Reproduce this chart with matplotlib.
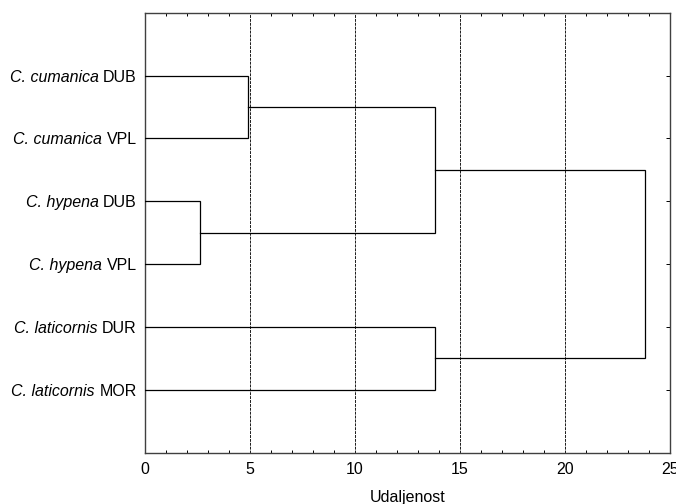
import numpy as np
import matplotlib.pyplot as plt
from matplotlib.ticker import MultipleLocator

plt.rcParams['font.family'] = ['Liberation Sans', 'DejaVu Sans']

# leaf labels (species in italics, locality code upright)
species = ['C. cumanica', 'C. cumanica', 'C. hypena', 'C. hypena',
           'C. laticornis', 'C. laticornis']
sites = ['DUB', 'VPL', 'DUB', 'VPL', 'DUR', 'MOR']

# merges: (node a, node b, linkage distance); new nodes get ids 6, 7, ...
merge_a = [0, 2, 6, 4, 8]
merge_b = [1, 3, 7, 5, 9]
merge_h = [4.9, 2.6, 13.8, 13.8, 23.8]

fs = 11.5
fig = plt.figure(figsize=(6.76, 5.04), dpi=100)
ax = fig.add_axes([145 / 676, 1 - 452.7 / 504, 525 / 676, 440 / 504])

# node positions: leaves sit at 1..6, clusters at the mean of their children
ypos = {i: i + 1.0 for i in range(len(sites))}
xpos = {i: 0.0 for i in range(len(sites))}
for k, (a, b, h) in enumerate(zip(merge_a, merge_b, merge_h)):
    node = len(sites) + k
    ax.plot([xpos[a], h, h, xpos[b]], [ypos[a], ypos[a], ypos[b], ypos[b]],
            color='black', lw=0.9, solid_joinstyle='miter', zorder=3)
    ypos[node] = (ypos[a] + ypos[b]) / 2
    xpos[node] = h

ax.set_xlim(0, 25)
ax.set_ylim(7, 0)
ax.xaxis.set_major_locator(MultipleLocator(5))
ax.xaxis.set_minor_locator(MultipleLocator(1))
ax.set_yticks(np.arange(1, len(sites) + 1))
ax.set_yticklabels([])

for v in range(5, 25, 5):
    ax.axvline(v, color='0.1', lw=0.7, ls=(0, (3, 1)), zorder=1)

ax.tick_params(axis='x', which='both', direction='in', top=True, bottom=True,
               labelsize=fs, pad=7)
ax.tick_params(axis='x', which='major', length=0)
ax.tick_params(axis='x', which='minor', length=2.5, width=0.7)
ax.tick_params(axis='y', direction='in', left=True, right=True, length=3,
               width=0.7)
for sp in ax.spines.values():
    sp.set_linewidth(1.0)
    sp.set_color('0.25')

ax.set_xlabel('Udaljenost', fontsize=fs, labelpad=9)

# leaf labels: upright site code, then italic species name to its left
pad = 6
space = 0.278 * fs
fig.canvas.draw()
renderer = fig.canvas.get_renderer()
for i, (sp_name, site) in enumerate(zip(species, sites)):
    y = ypos[i]
    t = ax.annotate(site, xy=(0, y), xycoords=('axes fraction', 'data'),
                    xytext=(-pad, 0), textcoords='offset points',
                    ha='right', va='center_baseline', fontsize=fs)
    w = t.get_window_extent(renderer).width * 72 / fig.dpi
    ax.annotate(sp_name, xy=(0, y), xycoords=('axes fraction', 'data'),
                xytext=(-pad - w - space, 0), textcoords='offset points',
                ha='right', va='center_baseline', fontsize=fs,
                fontstyle='italic')

fig.savefig('out.png', dpi=100)
